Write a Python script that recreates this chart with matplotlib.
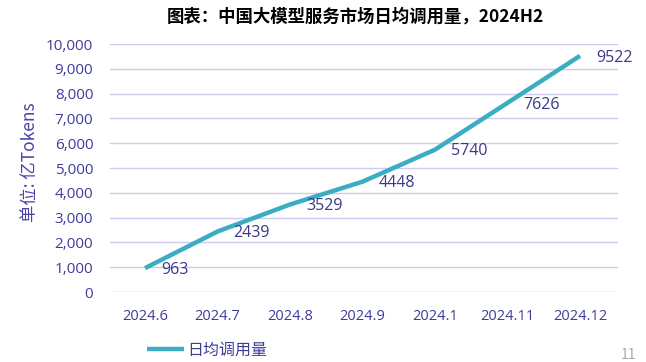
import matplotlib.pyplot as plt

plt.rcParams['font.family'] = ['Noto Sans CJK SC', 'DejaVu Sans']

months = ["2024.6", "2024.7", "2024.8", "2024.9", "2024.1", "2024.11", "2024.12"]
calls = [963, 2439, 3529, 4448, 5740, 7626, 9522]
yticks = [0, 1000, 2000, 3000, 4000, 5000, 6000, 7000, 8000, 9000, 10000]

W, H = 646, 362
fig = plt.figure(figsize=(W / 100, H / 100), dpi=100)
ax = fig.add_axes([110 / W, 1 - 292 / H, (618 - 110) / W, (292 - 44) / H])

x = list(range(len(months)))
ax.plot(x, calls, color="#3aadc3", lw=3.2, solid_capstyle="butt", label="日均调用量", zorder=3)

# value labels, just right of each point
for xi, v in zip(x, calls):
    ax.annotate(str(v), (xi, v), xytext=(11.5, -1.2), textcoords="offset points",
                ha="left", va="center", fontsize=11.5, color="#3b3888",
                family=["Open Sans", "DejaVu Sans"], zorder=4)

ax.set_xlim(-0.483, 6.524)
ax.set_ylim(0, 10000)
ax.set_xticks(x)
ax.set_xticklabels(months)
ax.set_yticks(yticks)
ax.set_yticklabels([f"{t:,}" for t in yticks])
ax.grid(axis="y", color="#cdcbef", lw=1.0)
ax.set_axisbelow(True)

for sp in ["top", "right", "left", "bottom"]:
    ax.spines[sp].set_visible(False)

tc = "#3f3c9c"
ax.tick_params(axis="y", length=0, labelcolor=tc, labelsize=11, pad=12)
ax.tick_params(axis="x", length=0, labelcolor=tc, labelsize=10.5, pad=12)
for lab in ax.get_xticklabels() + ax.get_yticklabels():
    lab.set_family(["Open Sans", "DejaVu Sans"])

fig.text(30 / W, 1 - 162 / H, "单位: 亿Tokens", rotation=90, ha="center", va="center",
         fontsize=12.5, color="#4a44a8")

fig.text(355 / W, 1 - 17 / H, "图表：中国大模型服务市场日均调用量，2024H2",
         ha="center", va="center", fontsize=12.5, fontweight="bold", color="black")

leg = ax.legend(loc="center", bbox_to_anchor=((207 - 110) / (618 - 110), (292 - 350) / (292 - 44)),
                frameon=False, fontsize=11.5, handlelength=2.3, handletextpad=0.2)
for t in leg.get_texts():
    t.set_color(tc)

fig.text(628 / W, 1 - 355 / H, "11", ha="center", va="center", fontsize=10, color="#aaaaaa")

fig.savefig("out.png", dpi=100)
